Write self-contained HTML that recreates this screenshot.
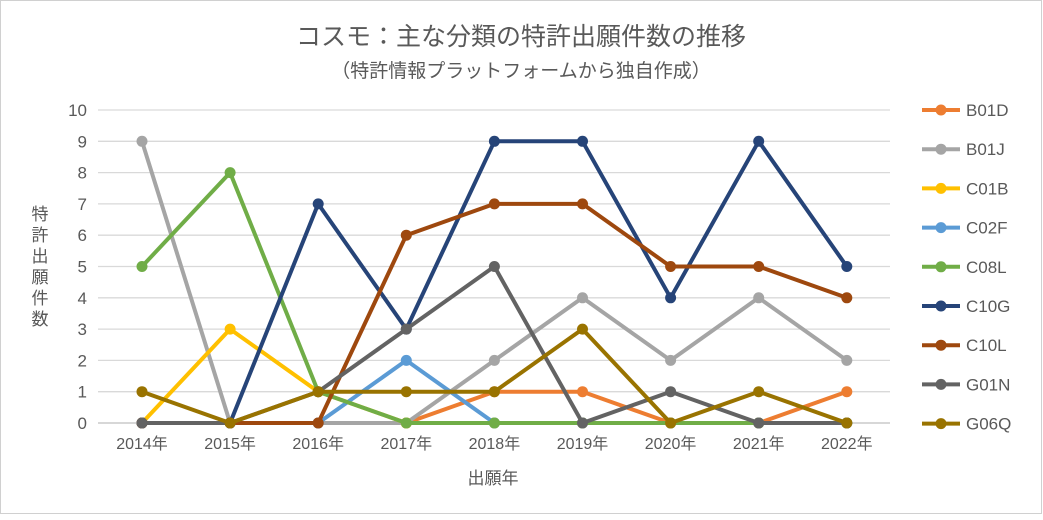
<!DOCTYPE html>
<html><head><meta charset="utf-8"><style>
body{margin:0;background:#fff;}
#wrap{width:1043px;height:515px;position:relative;background:#fff;}
svg text{font-family:"Liberation Sans","Noto Sans CJK JP",sans-serif;}
</style></head><body>
<div id="wrap">
<svg id="chart" width="1043" height="515">
<rect x="0.5" y="0.5" width="1041" height="513" fill="#fff" stroke="#d0d0d0"/>
<text x="521" y="45" text-anchor="middle" font-size="25" fill="#595959">コスモ：主な分類の特許出願件数の推移</text>
<text x="521" y="77" text-anchor="middle" font-size="19" fill="#595959">（特許情報プラットフォームから独自作成）</text>
<text x="493" y="484" text-anchor="middle" font-size="17" fill="#595959">出願年</text>
<text x="40" y="220" text-anchor="middle" font-size="17" fill="#595959"><tspan x="40" dy="0">特</tspan><tspan x="40" dy="21">許</tspan><tspan x="40" dy="21">出</tspan><tspan x="40" dy="21">願</tspan><tspan x="40" dy="21">件</tspan><tspan x="40" dy="21">数</tspan></text>
<g id="grid"></g><g id="series"></g><g id="legend"></g>
</svg>
</div>
<script>
const categories=["2014年","2015年","2016年","2017年","2018年","2019年","2020年","2021年","2022年"];
const yTicks=[0,1,2,3,4,5,6,7,8,9,10];
const seriesNames=["B01D","B01J","C01B","C02F","C08L","C10G","C10L","G01N","G06Q"];
const seriesColors=["#ed7d31","#a5a5a5","#ffc000","#5b9bd5","#70ad47","#264478","#9e480e","#636363","#997300"];
const B01D=[0,0,0,0,1,1,0,0,1];
const B01J=[9,0,0,0,2,4,2,4,2];
const C01B=[0,3,1,0,0,0,0,0,0];
const C02F=[0,0,0,2,0,0,0,0,0];
const C08L=[5,8,1,0,0,0,0,0,0];
const C10G=[0,0,7,3,9,9,4,9,5];
const C10L=[0,0,0,6,7,7,5,5,4];
const G01N=[0,0,1,3,5,0,1,0,0];
const G06Q=[1,0,1,1,1,3,0,1,0];
const seriesValues=[B01D,B01J,C01B,C02F,C08L,C10G,C10L,G01N,G06Q];
const NS="http://www.w3.org/2000/svg";
const x=i=>142+i*88.1;
const y=v=>423-v*31.3;
function mk(t,a,p){const e=document.createElementNS(NS,t);for(const k in a)e.setAttribute(k,a[k]);p.appendChild(e);return e;}
const grid=document.getElementById('grid');
yTicks.forEach(v=>{
 const l=mk('line',{x1:98,x2:890,y1:y(v),y2:y(v),stroke:v===0?'#bfbfbf':'#d9d9d9','stroke-width':1.3},grid);
 
 
 const t=mk('text',{x:87,y:y(v)+6,'text-anchor':'end','font-size':17,fill:'#595959'},grid);
 t.textContent=v;
 
 
});
categories.forEach((c,i)=>{
 const t=mk('text',{x:x(i),y:449,'text-anchor':'middle','font-size':16,fill:'#595959'},grid);
 t.textContent=c;
 
 
});
const sg=document.getElementById('series');
const lg=document.getElementById('legend');
seriesValues.forEach((vals,s)=>{
 const g=mk('g',{},sg);
 
 
 const pl=mk('polyline',{points:vals.map((v,i)=>x(i)+','+y(v)).join(' '),fill:'none',stroke:seriesColors[s],'stroke-width':4,'stroke-linejoin':'round'},g);
 
 
 vals.forEach((v,i)=>{
  const c=mk('circle',{cx:x(i),cy:y(v),r:5.5,fill:seriesColors[s]},g);
  
  
 });
 const ly=110+s*39.2;
 const le=mk('g',{},lg);
 
 
 mk('line',{x1:922,x2:960,y1:ly,y2:ly,stroke:seriesColors[s],'stroke-width':4},le);
 mk('circle',{cx:941,cy:ly,r:5.5,fill:seriesColors[s]},le);
 const t=mk('text',{x:966,y:ly+6,'font-size':17,fill:'#595959'},le);
 t.textContent=seriesNames[s];
});
</script>
</body></html>
